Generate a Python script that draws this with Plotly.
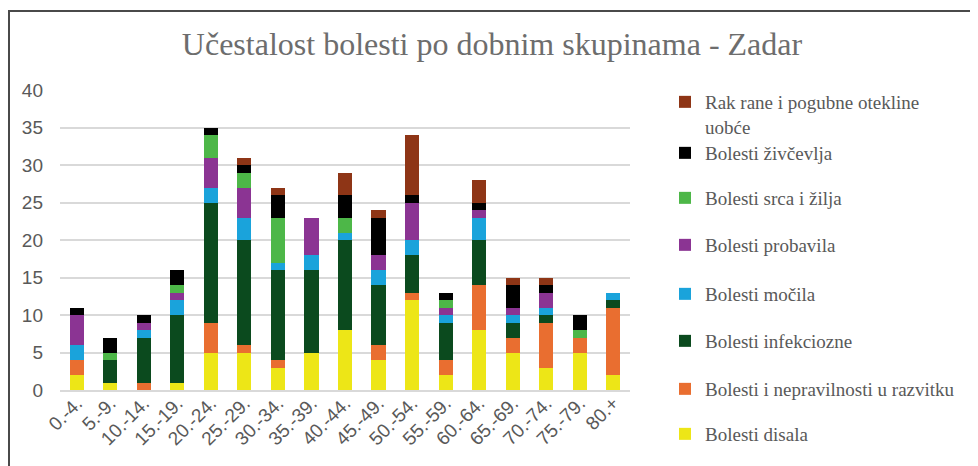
import plotly.graph_objects as go

categories = ["0.-4.", "5.-9.", "10.-14.", "15.-19.", "20.-24.", "25.-29.", "30.-34.",
              "35.-39.", "40.-44.", "45.-49.", "50.-54.", "55.-59.", "60.-64.",
              "65.-69.", "70.-74.", "75.-79.", "80.+"]

disala      = [2, 1, 0, 1, 5, 5, 3, 5, 8, 4, 12, 2, 8, 5, 3, 5, 2]
razvitku    = [2, 0, 1, 0, 4, 1, 1, 0, 0, 2, 1, 2, 6, 2, 6, 2, 9]
infekciozne = [0, 3, 6, 9, 16, 14, 12, 11, 12, 8, 5, 5, 6, 2, 1, 0, 1]
mocila      = [2, 0, 1, 2, 2, 3, 1, 2, 1, 2, 2, 1, 3, 1, 1, 0, 1]
probavila   = [4, 0, 1, 1, 4, 4, 0, 5, 0, 2, 5, 1, 1, 1, 2, 0, 0]
srca        = [0, 1, 0, 1, 3, 2, 6, 0, 2, 0, 0, 1, 0, 0, 0, 1, 0]
zivcevlja   = [1, 2, 1, 2, 1, 1, 3, 0, 3, 5, 1, 1, 1, 3, 1, 2, 0]
rak         = [0, 0, 0, 0, 0, 1, 1, 0, 3, 1, 8, 0, 3, 1, 1, 0, 0]

series = [
    ("Bolesti disala", disala, "#EDE617"),
    ("Bolesti i nepravilnosti u razvitku", razvitku, "#E96E30"),
    ("Bolesti infekciozne", infekciozne, "#0B4A1E"),
    ("Bolesti močila", mocila, "#1AA3DB"),
    ("Bolesti probavila", probavila, "#8B3493"),
    ("Bolesti srca i žilja", srca, "#4DB748"),
    ("Bolesti živčevlja", zivcevlja, "#000000"),
    ("Rak rane i pogubne otekline<br>uobće", rak, "#8E3516"),
]

# The page body has an 8px margin, so the figure is drawn offset by (8, 8)
OFF = 8
W, H = 970, 458
L, T = 60 - OFF, 90 - OFF
R = W - (630 - OFF)
B = H - (390 - OFF)
pw, ph = W - L - R, H - T - B
def px_x(x): return (x - OFF - L) / pw
def px_y(y): return (H - B - (y - OFF)) / ph

legend_centers = [434, 389, 341, 294, 245, 198, 153, 83]

fig = go.Figure()
layout_legends = {}
for i, (name, vals, col) in enumerate(series):
    key = "legend" if i == 0 else f"legend{i+1}"
    fig.add_trace(go.Bar(x=categories, y=vals, name=name, marker=dict(color=col, line=dict(width=0)),
                         legend=key))
    yanchor = "top" if i == len(series) - 1 else "middle"
    layout_legends[key] = dict(
        x=px_x(665), xanchor="left", y=px_y(legend_centers[i]), yanchor=yanchor,
        bgcolor="rgba(0,0,0,0)", font=dict(family="Liberation Serif", size=19, color="#595959"),
        itemwidth=30, valign="top", tracegroupgap=0,
    )

fig.update_layout(
    width=W, height=H,
    margin=dict(l=L, r=R, t=T, b=B, autoexpand=False),
    barmode="stack", bargap=0.58,
    plot_bgcolor="white", paper_bgcolor="white",
    title=dict(text="Učestalost bolesti po dobnim skupinama - Zadar",
               x=(492 - OFF) / W, xref="container", xanchor="center",
               y=1 - (44 - OFF) / H, yref="container", yanchor="middle",
               font=dict(family="Liberation Serif", size=32, color="#6d6d6d")),
    showlegend=True,
    **layout_legends,
)

fig.update_yaxes(range=[0, 40], dtick=5, showgrid=True, gridcolor="#d9d9d9", gridwidth=1.5,
                 zeroline=False, showline=False,
                 tickfont=dict(family="Liberation Sans", size=19, color="#595959"),
                 ticklabelstandoff=16)
fig.update_xaxes(tickangle=-45, showline=True, linecolor="#d9d9d9", linewidth=1.5,
                 tickfont=dict(family="Liberation Sans", size=19, color="#595959"),
                 ticklabelstandoff=-7)

# outer frame
fig.add_shape(type="rect", xref="paper", yref="paper",
              x0=px_x(9), x1=px_x(990), y0=px_y(480), y1=px_y(11),
              line=dict(color="#4a4a4a", width=2), fillcolor="rgba(0,0,0,0)", layer="above")

fig.write_html("out.html")
